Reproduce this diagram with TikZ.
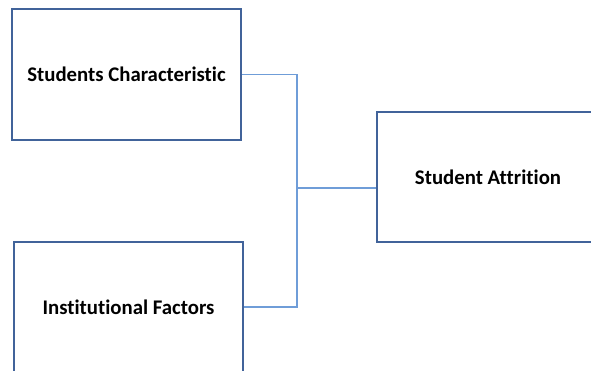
\documentclass[tikz,border=0pt]{standalone}
\usepackage{fontspec}
\setmainfont[Ligatures=NoCommon]{Carlito}
\definecolor{boxblue}{HTML}{41639A}
\definecolor{linkblue}{HTML}{6F9DD8}
\begin{document}
\begin{tikzpicture}[x=1pt, y=-1pt,
  factor/.style={draw=boxblue, line width=2pt, rectangle, minimum width=229pt, minimum height=131pt, font=\fontsize{20.8}{24}\selectfont\bfseries},
  link/.style={draw=linkblue, line width=1.1pt}]
\useasboundingbox (0,0) rectangle (591,370);
\clip (0,0) rectangle (591,370);
\node[factor] (char) at (126.5,74.5){Students Characteristic};
\node[factor] (inst) at (128.5,307){Institutional Factors};
\node[factor, minimum width=222pt, minimum height=130pt] (attr) at (488,177){Student Attrition};
\coordinate (hub) at (297,188);
\draw[link](char.east) -| (hub) |- (inst.east);
\draw[link](hub) -- (hub -| attr.west);
\end{tikzpicture}
\end{document}
